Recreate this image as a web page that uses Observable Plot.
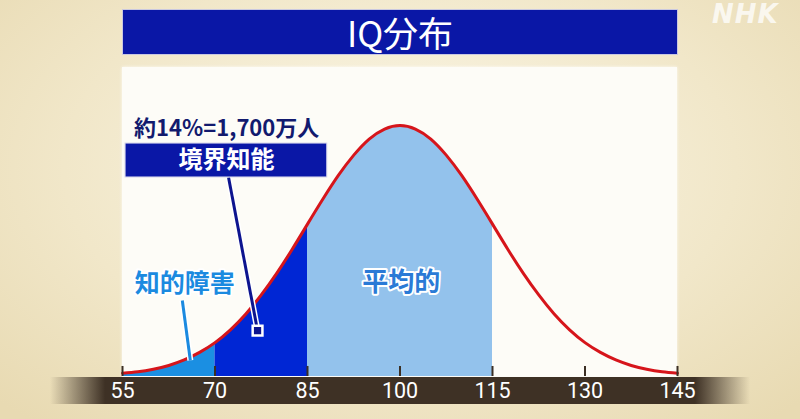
<!DOCTYPE html>
<html><head><meta charset="utf-8">
<script src="https://cdn.jsdelivr.net/npm/d3@7"></script>
<script src="https://cdn.jsdelivr.net/npm/@observablehq/plot@0.6"></script>
<style>
html,body{margin:0;padding:0;}
#stage{position:relative;width:800px;height:419px;overflow:hidden;
  background:radial-gradient(ellipse 70% 80% at 50% 40%, #fbf7e8 0%, #f1e7c9 60%, #e8dab2 100%);
  font-family:"Noto Sans CJK JP","Noto Sans",sans-serif;}
#panel{position:absolute;left:122px;top:67px;width:555px;height:310px;background:#fdfcf7;box-shadow:0 0 3px rgba(255,255,255,0.8);}
#band{position:absolute;left:50px;top:377px;width:700px;height:27px;
  background:linear-gradient(to right, rgba(62,49,37,0) 0px, #3e3125 55px, #3e3125 645px, rgba(62,49,37,0) 700px);}
#title{position:absolute;left:122px;top:9px;width:554px;height:44px;background:#0a17a6;border:1px solid #c9c8e0;
  color:#fff;font-size:35px;line-height:44px;text-align:center;font-weight:400;}
#logo{position:absolute;left:712px;top:0px;color:#fff;opacity:0.75;font-family:"DejaVu Sans",sans-serif;font-weight:bold;font-style:italic;font-size:26px;line-height:28px;letter-spacing:1px;}
#chart{position:absolute;left:0;top:0;}
#chart svg{background:transparent;overflow:visible;}
</style></head>
<body>
<div id="stage">
  <div id="panel"></div>
  <div id="band"></div>
  <div id="title">IQ分布</div>
  <div id="logo">NHK</div>
  <div id="chart"></div>
</div>
<script>
// IQ values and curve height (percent of peak)
const iq = [55,57.5,60,62.5,65,67.5,70,72.5,75,77.5,80,82.5,85,87.5,90,92.5,95,97.5,100,
            102.5,105,107.5,110,112.5,115,117.5,120,122.5,125,127.5,130,132.5,135,137.5,140,142.5,145];
const height = [1.3,1.9,2.9,4.4,6.6,9.6,13.5,18.6,24.9,32.5,41.1,50.6,60.7,70.7,80.1,88.2,94.6,98.6,100,
                98.6,94.6,88.2,80.1,70.7,60.7,50.6,41.1,32.5,24.9,18.6,13.5,9.6,6.6,4.4,2.9,1.9,1.3];
const tickValues = [55,70,85,100,115,130,145];

// shaded ranges
const rangeStart = [55,70,85];
const rangeEnd = [70,85,115];
const rangeColor = ["#1b8fe2","#0026d4","#93c2ec"];

// annotations
const headText = "約14%=1,700万人";
const headPos = [71.9, 98.8];
const boxText = "境界知能";
const boxX = [55.5, 88.2];
const boxY = [79.3, 92.8];
const boxLeader = [72.2, 79.3, 76.9, 18.3];
const idText = "知的障害";
const idPos = [65.1, 36.7];
const idLeader = [64.7, 30.3, 66.0, 6.4];
const avgText = "平均的";
const avgPos = [100.2, 37.5];

const curve = iq.map((x,i)=>({iq:x, v:height[i]}));
const seg = (a,b)=>curve.filter(d=>d.iq>=a && d.iq<=b);

const marks = [];
rangeStart.forEach((a,i)=>{
  marks.push(Plot.areaY(seg(a,rangeEnd[i]), {x:"iq", y:"v", fill:rangeColor[i], curve:"natural"}));
});
marks.push(Plot.line(curve, {x:"iq", y:"v", stroke:"#d6151b", strokeWidth:3, curve:"natural"}));
marks.push(Plot.ruleX(tickValues, {x:d=>d, y1:0, y2:4, stroke:"#3b2f24", strokeWidth:2}));
marks.push(Plot.axisX({ticks:tickValues, tickSize:0, tickPadding:6, tickFormat:d=>String(d), color:"white", fontSize:21.5, fontFamily:"Roboto, 'Noto Sans', sans-serif", label:null}));

// 知的障害 leader
marks.push(Plot.link([idLeader], {x1:d=>d[0], y1:d=>d[1], x2:d=>d[2], y2:d=>d[3], stroke:"white", strokeWidth:6}));
marks.push(Plot.link([idLeader], {x1:d=>d[0], y1:d=>d[1], x2:d=>d[2], y2:d=>d[3], stroke:"#1b8ae0", strokeWidth:3}));
// 境界知能 leader
marks.push(Plot.link([boxLeader], {x1:d=>d[0], y1:d=>d[1], x2:d=>d[2], y2:d=>d[3], stroke:"white", strokeWidth:6}));
marks.push(Plot.link([boxLeader], {x1:d=>d[0], y1:d=>d[1], x2:d=>d[2], y2:d=>d[3], stroke:"#0d148f", strokeWidth:3}));
marks.push(Plot.dot([boxLeader], {x:d=>d[2], y:d=>d[3], symbol:"square", r:5.5, fill:"#0d148f", stroke:"white", strokeWidth:2.5}));
// box
marks.push(Plot.rect([0], {x1:boxX[0], x2:boxX[1], y1:boxY[0], y2:boxY[1], fill:"#0a17a6", stroke:"#d0d0ea", strokeWidth:1}));
marks.push(Plot.text([boxText], {x:(boxX[0]+boxX[1])/2, y:(boxY[0]+boxY[1])/2, text:d=>d, fill:"white", fontSize:24, fontWeight:"bold", fontFamily:"'Noto Sans CJK JP'"}));
marks.push(Plot.text([headText], {x:headPos[0], y:headPos[1], text:d=>d, fill:"#121a6e", fontSize:22, fontWeight:"bold", fontFamily:"'Noto Sans CJK JP'"}));
marks.push(Plot.text([idText], {x:idPos[0], y:idPos[1], text:d=>d, fill:"#1b8ae0", stroke:"white", strokeWidth:4, paintOrder:"stroke", fontSize:25, fontWeight:"bold", fontFamily:"'Noto Sans CJK JP'"}));
marks.push(Plot.text([avgText], {x:avgPos[0], y:avgPos[1], text:d=>d, fill:"#2a7ad6", stroke:"white", strokeWidth:4, paintOrder:"stroke", fontSize:26, fontWeight:"bold", fontFamily:"'Noto Sans CJK JP'"}));

const chart = Plot.plot({
  width:800, height:419,
  marginLeft:122, marginRight:123, marginTop:125, marginBottom:43,
  x:{domain:[55,145]},
  y:{domain:[0,100], axis:null},
  style:{background:"transparent", overflow:"visible"},
  marks
});
document.getElementById("chart").appendChild(chart);
</script>
</body></html>
